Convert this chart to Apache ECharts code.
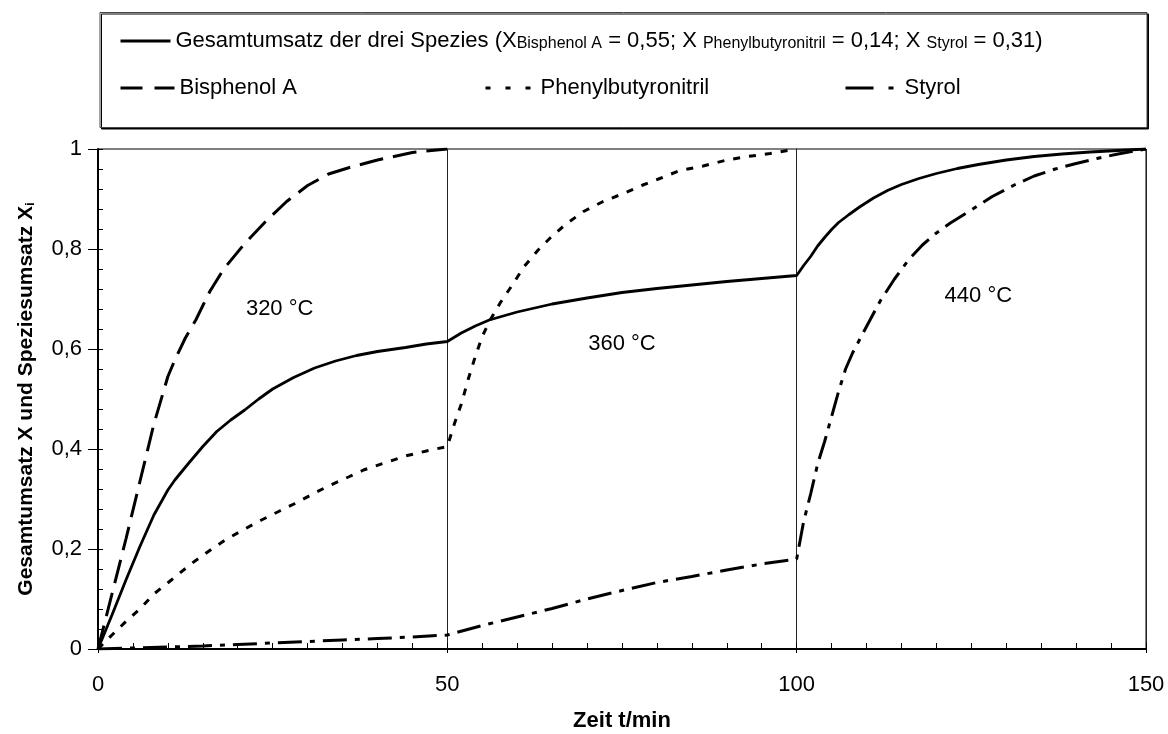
<!DOCTYPE html>
<html>
<head>
<meta charset="utf-8">
<script src="https://cdn.jsdelivr.net/npm/echarts@6/dist/echarts.min.js"></script>
<style>
  html, body { margin: 0; padding: 0; background: #fff; }
  #chart { width: 1168px; height: 734px; }
</style>
</head>
<body>
<div id="chart"></div>
<script>
const FONT = 'Liberation Sans, Arial, sans-serif';

// Gesamtumsatz (solid)
const gesamtT = [0, 2, 4, 6, 8, 10, 11, 13, 15, 17, 19, 21, 23, 25, 28, 31, 34, 37, 40, 44, 47, 50,
  52, 54, 56, 58, 60, 65, 70, 75, 80, 85, 90, 95, 100,
  101, 102, 103, 104, 105, 106, 107.5, 109, 111, 113, 115, 117.5, 120, 123, 126, 130, 134, 138, 142, 146, 150];
const gesamtX = [0, 0.068, 0.138, 0.205, 0.268, 0.318, 0.338, 0.372, 0.405, 0.435, 0.458, 0.478, 0.5, 0.52, 0.543, 0.562, 0.576, 0.587, 0.595, 0.603, 0.61, 0.615,
  0.632, 0.646, 0.658, 0.666, 0.674, 0.69, 0.702, 0.713, 0.721, 0.728, 0.735, 0.741, 0.747,
  0.767, 0.785, 0.806, 0.823, 0.839, 0.853, 0.869, 0.884, 0.902, 0.917, 0.929, 0.941, 0.951, 0.961, 0.969, 0.978, 0.985, 0.99, 0.994, 0.997, 1.0];

// Bisphenol A (dashed)
const bisphenolT = [0, 2, 4, 6, 8, 10, 11, 12.5, 14, 16, 18, 21, 24, 27, 30, 33, 36, 40, 45, 50];
const bisphenolX = [0, 0.11, 0.22, 0.335, 0.45, 0.545, 0.578, 0.622, 0.658, 0.715, 0.76, 0.811, 0.855, 0.895, 0.927, 0.95, 0.963, 0.978, 0.993, 1.0];

// Phenylbutyronitril (dotted)
const phenylT = [0, 2, 4, 6, 8, 10.5, 13.4, 16, 18.2, 21, 23.4, 26, 28.2, 31, 33, 36, 38, 41, 44, 47, 50,
  51, 52, 53, 54, 55, 56, 57.6, 59.3, 61, 63, 65, 67, 69.5, 72.3, 75.2, 78, 80.4, 83.3, 86.6, 90, 93, 96.2, 100];
const phenylX = [0, 0.028, 0.055, 0.08, 0.11, 0.138, 0.171, 0.197, 0.218, 0.24, 0.258, 0.276, 0.291, 0.312, 0.326, 0.345, 0.358, 0.372, 0.386, 0.396, 0.405,
  0.45, 0.49, 0.54, 0.585, 0.625, 0.655, 0.693, 0.728, 0.765, 0.798, 0.826, 0.85, 0.875, 0.895, 0.911, 0.928, 0.941, 0.957, 0.966, 0.978, 0.985, 0.991, 1.0];

// Styrol (dash-dot)
const styrolT = [0, 5, 10, 15, 20, 25, 30, 35, 40, 45, 50, 55, 60, 65, 70, 75, 80, 85, 90, 95, 100,
  101, 102, 103, 104, 105, 106, 107, 108, 110, 112, 114, 116, 118, 120, 122, 125, 128, 131, 134, 137, 140, 143, 146, 150];
const styrolX = [0, 0.002, 0.004, 0.006, 0.009, 0.012, 0.015, 0.018, 0.021, 0.024, 0.028, 0.047, 0.064, 0.081, 0.1, 0.117, 0.133, 0.145, 0.158, 0.17, 0.18,
  0.255, 0.31, 0.37, 0.415, 0.465, 0.515, 0.56, 0.592, 0.645, 0.697, 0.74, 0.778, 0.808, 0.832, 0.852, 0.878, 0.905, 0.927, 0.946, 0.96, 0.971, 0.981, 0.99, 1.0];

// temperature labels
const stageLabels = ['320 °C', '360 °C', '440 °C'];
const stageT = [26, 75, 126];
const stageX = [0.68, 0.61, 0.706];

const pairs = (t, v) => t.map((x, i) => [x, v[i]]);
const comma = v => String(v).replace('.', ',');

const chart = echarts.init(document.getElementById('chart'), null, { renderer: 'canvas' });

const baseText = { fontFamily: FONT, fontSize: 22, color: '#000' };
// legend samples: line only, no marker
const noMarker = { opacity: 0 };

const valueX = { type: 'value', min: 0, max: 150, interval: 50, position: 'bottom' };
const valueY = { type: 'value', min: 0, max: 1, interval: 0.2, position: 'left' };

chart.setOption({
  animation: false,
  textStyle: { fontFamily: FONT },
  grid: {
    left: 98, right: 22, top: 149, bottom: 85,
    show: true, borderColor: '#000', borderWidth: 1, backgroundColor: '#fff',
    containLabel: false, outerBoundsMode: 'none'
  },
  graphic: [{
    type: 'rect',
    shape: { x: 100, y: 12.5, width: 1047, height: 115 },
    style: { fill: '#fff', stroke: '#444', lineWidth: 1, shadowColor: '#000', shadowOffsetX: 1.5, shadowOffsetY: 1.5, shadowBlur: 0 },
    silent: true
  }],
  legend: [
    {
      data: ['Gesamtumsatz'], left: 119, top: 29, padding: 0, itemWidth: 50, itemHeight: 14,
      selectedMode: false, itemStyle: noMarker, lineStyle: { width: 3, type: 'solid' },
      formatter: () => '{m|Gesamtumsatz der drei Spezies (X}{sub|Bisphenol A}{m| = 0,55; X }{sub|Phenylbutyronitril}{m| = 0,14; X }{sub|Styrol}{m| = 0,31)}',
      textStyle: {
        ...baseText,
        rich: {
          m: { fontFamily: FONT, fontSize: 22, lineHeight: 22, verticalAlign: 'top', color: '#000' },
          sub: { fontFamily: FONT, fontSize: 16, lineHeight: 16, verticalAlign: 'bottom', padding: [7, 0, 0, 0], color: '#000' }
        }
      }
    },
    {
      data: ['Bisphenol A'], left: 119, top: 77, padding: 0, itemWidth: 54, itemHeight: 14,
      selectedMode: false, itemStyle: noMarker, textStyle: baseText, lineStyle: { width: 3, type: [22, 12, 20, 100] }
    },
    {
      data: ['Phenylbutyronitril'], left: 484, top: 77, padding: 0, itemWidth: 50, itemHeight: 14,
      selectedMode: false, itemStyle: noMarker, textStyle: baseText, lineStyle: { width: 3, type: [5, 15] }
    },
    {
      data: ['Styrol'], left: 844, top: 77, padding: 0, itemWidth: 54, itemHeight: 14,
      selectedMode: false, itemStyle: noMarker, textStyle: baseText, lineStyle: { width: 3, type: [28, 15, 5, 100] }
    }
  ],
  xAxis: [
    {
      ...valueX,
      name: 'Zeit t/min', nameLocation: 'middle', nameGap: 61,
      nameTextStyle: { ...baseText, fontWeight: 'bold' },
      axisLine: { lineStyle: { color: '#000', width: 2 } },
      axisTick: { show: true, length: 4, lineStyle: { color: '#000', width: 1 } },
      axisLabel: { ...baseText, margin: 25 },
      splitLine: { show: true, lineStyle: { color: '#222', width: 1 } }
    },
    {
      ...valueX,
      axisLine: { show: false },
      axisLabel: { show: false },
      axisTick: { show: true, inside: true, length: 6, lineStyle: { color: '#000', width: 1 } },
      minorTick: { show: true, splitNumber: 10, length: 6, lineStyle: { color: '#000', width: 1 } },
      splitLine: { show: false }
    }
  ],
  yAxis: [
    {
      ...valueY,
      name: 'Gesamtumsatz X und Speziesumsatz X{sub|i}', nameLocation: 'middle', nameGap: 61,
      nameTextStyle: {
        ...baseText, fontSize: 21, fontWeight: 'bold',
        rich: { sub: { fontFamily: FONT, fontSize: 13, lineHeight: 13, verticalAlign: 'bottom', color: '#000' } }
      },
      axisLine: { lineStyle: { color: '#000', width: 2 } },
      axisTick: { show: true, length: 10, lineStyle: { color: '#000', width: 1 } },
      axisLabel: { ...baseText, margin: 16, formatter: comma },
      splitLine: { show: false }
    },
    {
      ...valueY,
      axisLine: { show: false },
      axisLabel: { show: false },
      axisTick: { show: true, inside: true, length: 5, lineStyle: { color: '#000', width: 1 } },
      minorTick: { show: true, splitNumber: 5, length: 5, lineStyle: { color: '#000', width: 1 } },
      splitLine: { show: false }
    }
  ],
  series: [
    {
      name: 'Gesamtumsatz', type: 'line', data: pairs(gesamtT, gesamtX),
      symbol: 'none', silent: true, z: 5,
      lineStyle: { color: '#000', width: 2.8, type: 'solid' }, itemStyle: { color: '#000' }
    },
    {
      name: 'Bisphenol A', type: 'line', data: pairs(bisphenolT, bisphenolX),
      symbol: 'none', silent: true, z: 4,
      lineStyle: { color: '#000', width: 3, type: [24, 10] }, itemStyle: { color: '#000' }
    },
    {
      name: 'Phenylbutyronitril', type: 'line', data: pairs(phenylT, phenylX),
      symbol: 'none', silent: true, z: 4,
      lineStyle: { color: '#000', width: 3, type: [7, 9] }, itemStyle: { color: '#000' }
    },
    {
      name: 'Styrol', type: 'line', data: pairs(styrolT, styrolX),
      symbol: 'none', silent: true, z: 4,
      lineStyle: { color: '#000', width: 3, type: [24, 8, 5, 8] }, itemStyle: { color: '#000' }
    },
    {
      name: 'Temperatur', type: 'scatter', symbolSize: 0, silent: true,
      itemStyle: { color: '#000', opacity: 1 },
      data: stageLabels.map((s, i) => ({ name: s, value: [stageT[i], stageX[i]] })),
      label: { show: true, position: 'inside', formatter: p => p.name, ...baseText, opacity: 1, textBorderWidth: 0 }
    }
  ]
});
</script>
</body>
</html>
